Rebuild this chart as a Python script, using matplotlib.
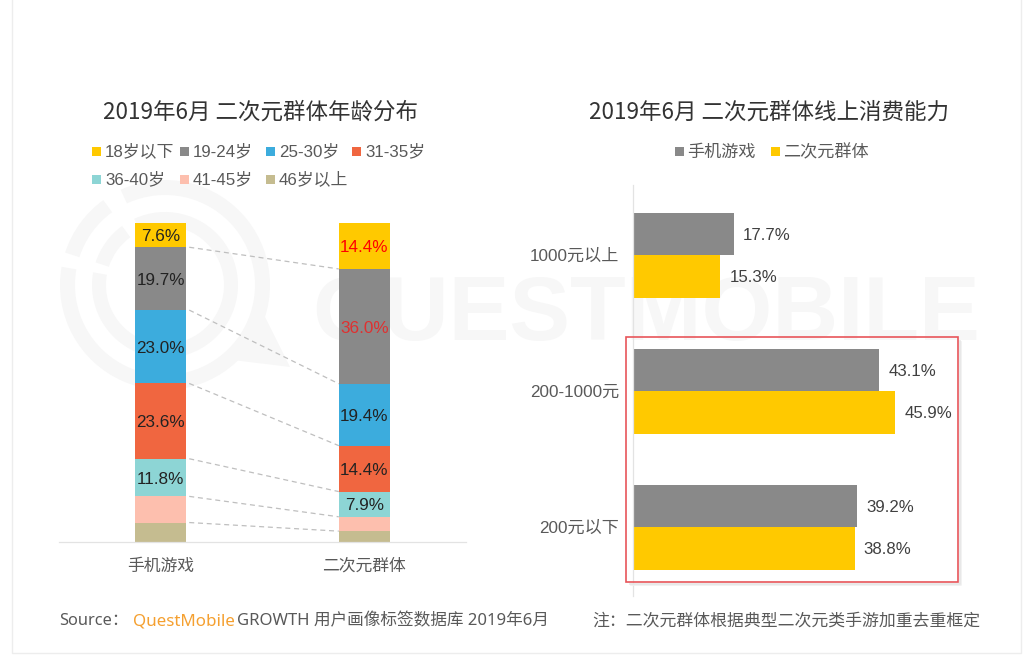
import matplotlib
matplotlib.use("Agg")
import matplotlib.pyplot as plt
from matplotlib.patches import Rectangle, Wedge, Polygon

plt.rcParams['font.family'] = ['Noto Sans CJK SC', 'DejaVu Sans']

W, H = 1033, 661

# ---- data ----
age_groups = ['18岁以下', '19-24岁', '25-30岁', '31-35岁', '36-40岁', '41-45岁', '46岁以上']
age_colors = ['#FFC900', '#898989', '#3CACDD', '#F06640', '#8DD5D5', '#FDBFAE', '#C5BC90']
age_cats = ['手机游戏', '二次元群体']
age_game = [7.6, 19.7, 23.0, 23.6, 11.8, 8.2, 6.1]
age_acg = [14.4, 36.0, 19.4, 14.4, 7.9, 4.5, 3.4]
age_game_labels = ['7.6%', '19.7%', '23.0%', '23.6%', '11.8%', '', '']
age_acg_labels = ['14.4%', '36.0%', '19.4%', '14.4%', '7.9%', '', '']
age_acg_label_colors = ['#FF0000', '#E03030', '#222222', '#222222', '#222222', '#222222', '#222222']

spend_cats = ['1000元以上', '200-1000元', '200元以下']
spend_game = [17.7, 43.1, 39.2]
spend_acg = [15.3, 45.9, 38.8]
spend_series = ['手机游戏', '二次元群体']
spend_colors = ['#898989', '#FFC900']

TXT = '#404040'
LAT = ['Liberation Sans', 'Noto Sans CJK SC']


def axrect(x0, y0, x1, y1):
    return [x0 / W, 1 - y1 / H, (x1 - x0) / W, (y1 - y0) / H]


fig = plt.figure(figsize=(W / 100, H / 100), dpi=100, facecolor='white')

# overlay in pixel coordinates: card, watermark, titles, legends
bg = fig.add_axes([0, 0, 1, 1], zorder=0)
bg.set_xlim(0, W)
bg.set_ylim(H, 0)
bg.axis('off')
bg.plot([11.5, 11.5, 1020.5, 1020.5], [0, 652.5, 652.5, 0], color='#EDEDED', lw=1)

# watermark (y axis inverted, so wedge angles run clockwise on screen)
WM = '#F7F7F7'
cx, cy = 165, 285
for r, w in [(105, 15), (73, 14)]:
    bg.add_patch(Wedge((cx, cy), r, -115, 190, width=w, color=WM, lw=0))
    bg.add_patch(Wedge((cx, cy), r, -162, -126, width=w, color=WM, lw=0))
bg.add_patch(Polygon([(264, 315), (290, 367), (233, 360)], closed=True, color=WM, lw=0))
bg.text(646.5, 316, 'QUESTMOBILE', fontsize=65.6, color=WM, ha='center', va='center',
        family=['Liberation Sans'], fontweight='bold')

# titles
bg.text(260.5, 112, '2019年6月 二次元群体年龄分布', fontsize=16.2, color='#333333', ha='center', va='center')
bg.text(769, 112, '2019年6月 二次元群体线上消费能力', fontsize=16.2, color='#333333', ha='center', va='center')

# left legend
leg_pos = [(92, 151), (180, 151), (266, 151), (352, 151), (92, 179), (180, 179), (266, 179)]
for name, c, (x, y) in zip(age_groups, age_colors, leg_pos):
    bg.add_patch(Rectangle((x, y - 4.5), 9, 9, color=c, lw=0))
    bg.text(x + 13, y + 0.5, name, fontsize=12.15, color='#595959', ha='left', va='center', family=LAT)

# right legend
for name, c, x in zip(spend_series, spend_colors, [675, 771]):
    bg.add_patch(Rectangle((x, 147), 9, 9, color=c, lw=0))
    bg.text(x + 12, 152.5, name, fontsize=12.3, color='#595959', ha='left', va='center', family=LAT)

# footer
bg.text(59, 621, 'Source：', fontsize=11.8, color='#595959', ha='left', va='center', family=['Noto Sans', 'Noto Sans CJK SC'])
bg.text(133, 621, 'QuestMobile', fontsize=12.2, color='#F5A030', ha='left', va='center', family=['Noto Sans'])
bg.text(237, 621, 'GROWTH 用户画像标签数据库 2019年6月', fontsize=12, color='#595959', ha='left', va='center', family=['Noto Sans', 'Noto Sans CJK SC'])
bg.text(592, 621, '注：二次元群体根据典型二次元类手游加重去重框定', fontsize=12.15, color='#595959', ha='left', va='center')

# ---- left stacked chart ----
ax = fig.add_axes(axrect(59, 223, 466, 542), zorder=2)
ax.patch.set_alpha(0)
bar_w = 0.25
series_by_cat = [age_game, age_acg]
tops = []
for i, vals in enumerate(series_by_cat):
    top = 100.0
    edges = []
    for v, c in zip(vals, age_colors):
        ax.bar(i, v, bottom=top - v, width=bar_w, color=c, lw=0)
        top -= v
        edges.append(top)
    tops.append(edges)
for i, (vals, labs, cols) in enumerate([(age_game, age_game_labels, ['#222222'] * 7),
                                        (age_acg, age_acg_labels, age_acg_label_colors)]):
    top = 100.0
    for v, lab, col in zip(vals, labs, cols):
        if lab:
            ax.annotate(lab, xy=(i, top - v / 2), xytext=(0, -1.2), textcoords='offset points',
                        ha='center', va='center', fontsize=12.3, color=col,
                        family=['Liberation Sans'])
        top -= v
for a, b in zip(tops[0][:-1], tops[1][:-1]):
    ax.plot([bar_w / 2 + 0.015, 1 - bar_w / 2], [a, b], color='#BFBFBF', lw=0.9, ls=(0, (4, 3)))
ax.set_xlim(-0.5, 1.5)
ax.set_ylim(0, 100)
ax.set_xticks([0, 1], age_cats, fontsize=12.1, color='#595959')
ax.set_yticks([])
ax.tick_params(axis='x', length=0, pad=11.5)
for s in ['top', 'left', 'right']:
    ax.spines[s].set_visible(False)
ax.spines['bottom'].set_color('#E3E3E3')
ax.spines['bottom'].set_linewidth(0.9)

# ---- right bar chart ----
ax2 = fig.add_axes(axrect(633, 185, 990, 596), zorder=2)
ax2.patch.set_alpha(0)
h = 0.3125
for i, (a, b) in enumerate(zip(spend_game, spend_acg)):
    ax2.barh(i - h / 2, a, height=h, color=spend_colors[0], lw=0)
    ax2.barh(i + h / 2, b, height=h, color=spend_colors[1], lw=0)
    for v, yy in [(a, i - h / 2), (b, i + h / 2)]:
        ax2.annotate(f'{v:.1f}%', xy=(v, yy), xytext=(6.4, -1.2), textcoords='offset points',
                     ha='left', va='center', fontsize=12.1, color=TXT, family=['Liberation Sans'])
ax2.set_xlim(0, 357 / 5.715)
ax2.set_ylim(2 + 69 / 136, -70 / 136)
ax2.set_yticks([0, 1, 2], spend_cats, fontsize=12.3, color='#595959', family=LAT)
ax2.set_xticks([])
ax2.tick_params(axis='y', length=0, pad=10)
for s in ['top', 'bottom', 'right']:
    ax2.spines[s].set_visible(False)
ax2.spines['left'].set_color('#E3E3E3')
ax2.spines['left'].set_linewidth(0.9)

# red highlight frame with soft shadow
top = fig.add_axes([0, 0, 1, 1], zorder=3)
top.set_xlim(0, W)
top.set_ylim(H, 0)
top.axis('off')
top.patch.set_alpha(0)
for off, col in [(3, '#F0F0F0'), (2, '#E6E6E6')]:
    top.plot([626 + off + 2, 958 + off, 958 + off], [582 + off, 582 + off, 337 + off + 2], color=col, lw=1.2)
top.add_patch(Rectangle((625.5, 337), 332.5, 245, fill=False, ec='#E8555A', lw=1.2))

fig.savefig('out.png', dpi=100, facecolor='white')
